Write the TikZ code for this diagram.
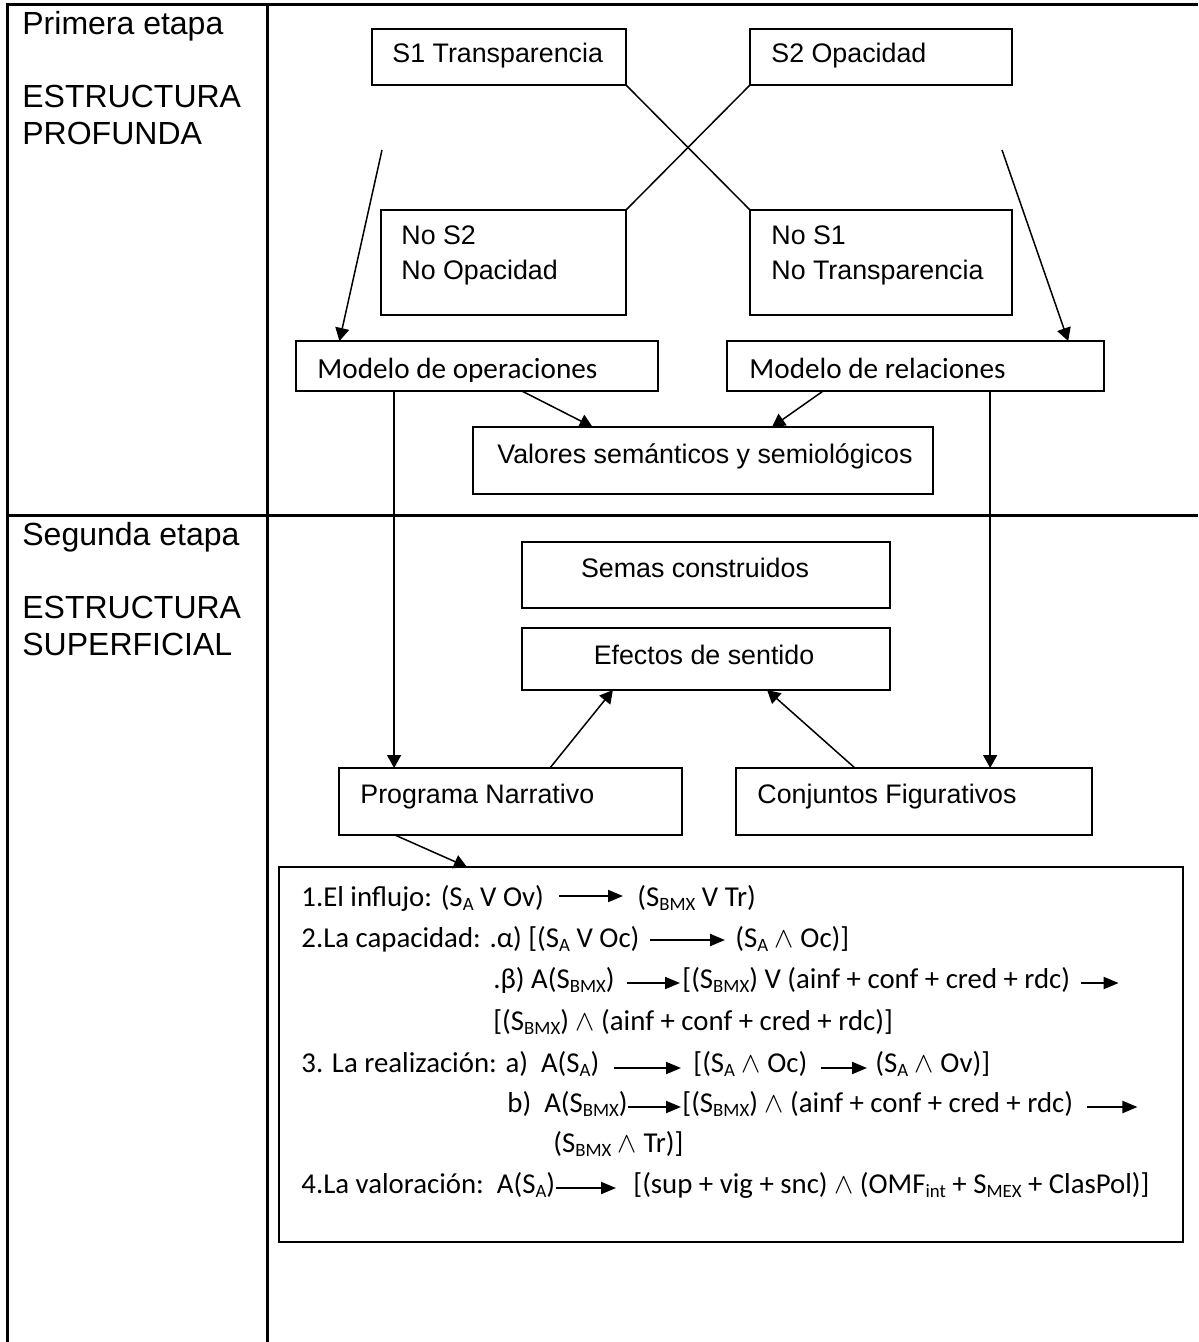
\documentclass[tikz,border=0pt]{standalone}
\usepackage{fontspec}
\setmainfont{Liberation Sans}
\newfontfamily\calib{Carlito}
\usetikzlibrary{arrows.meta,calc}

% lowered index in the formula lines
\newcommand\lo[1]{\raisebox{-0.35ex}{\fontsize{9.4pt}{10pt}\selectfont #1}}
\newcommand\et{\ensuremath{\wedge}}
% box from top-left (x1,y1) to bottom-right (x2,y2)
\newcommand\panel[5]{\node[box, minimum width={(#4-#2)*0.5pt}, minimum height={(#5-#3)*0.5pt}] (#1) at (#2,#3) {};}

\begin{document}
\begin{tikzpicture}[x=0.5pt,y=-0.5pt,
  rule/.style={line width=1.5pt},
  box/.style={draw, line width=1pt, inner sep=0pt, outer sep=0pt, anchor=north west},
  stage/.style={anchor=base west, inner sep=0pt, font=\fontsize{16pt}{19pt}\selectfont},
  lbl/.style={anchor=base west, inner sep=0pt, font=\fontsize{13.4pt}{16pt}\selectfont},
  lblc/.style={lbl, anchor=base},
  cal/.style={anchor=base west, inner sep=0pt, font=\calib\fontsize{14.6pt}{17pt}\selectfont},
  frm/.style={anchor=base west, inner sep=0pt, font=\calib\fontsize{14.4pt}{17pt}\selectfont},
  link/.style={line width=0.75pt},
  arr/.style={link, -{Triangle[length=6.5pt,width=7pt]}},
  farr/.style={line width=1pt, -{Triangle[length=7.5pt,width=6pt]}},
]
\useasboundingbox (0,0) rectangle (1198,1342);

% table grid
\draw[rule] (7,1342) -- (7,5) -- (1198,5);
\draw[rule] (267,5) -- (267,1342);
\draw[rule] (7,515) -- (1198,515);

% stage column
\node[stage] (st1) at (22,35) {Primera etapa};
\node[stage] (st1a) at (22,108) {ESTRUCTURA};
\node[stage] (st1b) at (22,145) {PROFUNDA};
\node[stage] (st2) at (22,545) {Segunda etapa};
\node[stage] (st2a) at (22,618) {ESTRUCTURA};
\node[stage] (st2b) at (22,655) {SUPERFICIAL};

% boxes
\panel{sone}{372}{29}{626}{85}
\panel{stwo}{750}{29}{1012}{85}
\panel{nstwo}{381}{210}{626}{315}
\panel{nsone}{750}{210}{1012}{315}
\panel{opm}{296}{341}{658}{391}
\panel{rel}{727}{341}{1104}{391}
\panel{val}{473}{427}{933}{494}
\panel{sem}{522}{542}{890}{608}
\panel{efe}{522}{628}{890}{690}
\panel{pn}{339}{768}{682}{835}
\panel{cf}{736}{768}{1092}{835}
\panel{steps}{279}{867}{1183}{1242}

% box labels
\node[lbl] (tsone) at (392,63) {S1 Transparencia};
\node[lbl] (tstwo) at (771,63) {S2 Opacidad};
\node[lbl] (tnstwo) at (401,245) {No S2};
\node[lbl] (tnstwob) at (401,280) {No Opacidad};
\node[lbl] (tnsone) at (771,245) {No S1};
\node[lbl] (tnsoneb) at (771,280) {No Transparencia};
\node[lbl] (tval) at (497,463) {Valores semánticos y semiológicos};
\node[lblc] (tsem) at (695,577) {Semas construidos};
\node[lblc] (tefe) at (704,664) {Efectos de sentido};
\node[lbl] (tpn) at (360,803) {Programa Narrativo};
\node[lbl] (tcf) at (757,803) {Conjuntos Figurativos};
\begin{scope}
  \clip (296,341) rectangle (1104,381);
  \node[cal] (topm) at (317,379) {Modelo de operaciones};
  \node[cal] (trel) at (749,379) {Modelo de relaciones};
\end{scope}

% connectors
\coordinate (ltop) at (382,150);
\coordinate (rtop) at (1002,150);
\draw[link] (sone.south east) -- (nsone.north west);
\draw[link] (stwo.south west) -- (nstwo.north east);
\draw[arr] (ltop) -- ($(opm.north west)!0.12!(opm.north east)$);
\draw[arr] (rtop) -- ($(rel.north west)!0.905!(rel.north east)$);
\draw[arr] ($(opm.south west)!0.624!(opm.south east)$) -- ($(val.north west)!0.26!(val.north east)$);
\draw[arr] ($(rel.south west)!0.255!(rel.south east)$) -- ($(val.north west)!0.65!(val.north east)$);
\coordinate (opmout) at ($(opm.south west)!0.271!(opm.south east)$);
\draw[arr] (opmout) -- (opmout |- pn.north);
\coordinate (relout) at ($(rel.south west)!0.698!(rel.south east)$);
\draw[arr] (relout) -- (relout |- cf.north);
\draw[arr] ($(pn.north west)!0.615!(pn.north east)$) -- ($(efe.south west)!0.247!(efe.south east)$);
\draw[arr] ($(cf.north west)!0.334!(cf.north east)$) -- ($(efe.south west)!0.666!(efe.south east)$);
\draw[arr] ($(pn.south west)!0.163!(pn.south east)$) -- ($(steps.north west)!0.208!(steps.north east)$);

% formula lines
\node[frm] (fa1) at (301,906) {1.El influjo: (S\lo{A} V Ov)};
\node[frm] (fb1) at (637,906) {(S\lo{BMX} V Tr)};
\draw[farr] ([shift={(15,-10)}]fa1.base east) -- ([shift={(-14,-10)}]fb1.base west);

\node[frm] (fa2) at (301,947) {2.La capacidad: .α) [(S\lo{A} V Oc)};
\node[frm] (fb2) at (735,947) {(S\lo{A} \et{} Oc)]};
\draw[farr] ([shift={(10,-7)}]fa2.base east) -- ([shift={(-10,-7)}]fb2.base west);

\node[frm] (fa3) at (493,988) {.β) A(S\lo{BMX})};
\node[frm] (fb3) at (682,988) {[(S\lo{BMX}) V (ainf + conf + cred + rdc)};
\draw[farr] ([shift={(12,-5)}]fa3.base east) -- ([shift={(-2,-5)}]fb3.base west);
\coordinate (ce3) at ([shift={(48,-5)}]fb3.base east);
\draw[farr] ([shift={(10,-5)}]fb3.base east) -- (ce3);

\node[frm] (fa4) at (493,1030) {[(S\lo{BMX}) \et{} (ainf + conf + cred + rdc)]};

\node[frm] (fa5) at (301,1072) {3. La realización: a)\ \ A(S\lo{A})};
\node[frm] (fb5) at (693,1072) {[(S\lo{A} \et{} Oc)};
\node[frm] (fc5) at (875,1072) {(S\lo{A} \et{} Ov)]};
\draw[farr] ([shift={(14,-4)}]fa5.base east) -- ([shift={(-12,-4)}]fb5.base west);
\draw[farr] ([shift={(13,-4)}]fb5.base east) -- ([shift={(-8,-4)}]fc5.base west);

\node[frm] (fa6) at (507,1112) {b)\ \ A(S\lo{BMX})};
\node[frm] (fb6) at (682,1112) {[(S\lo{BMX}) \et{} (ainf + conf + cred + rdc)};
\draw[farr] ([shift={(0,-5)}]fa6.base east) -- ([shift={(-1,-5)}]fb6.base west);
\coordinate (ce6) at ([shift={(64,-5)}]fb6.base east);
\draw[farr] ([shift={(14,-5)}]fb6.base east) -- (ce6);

\node[frm] (fa7) at (553,1152) {(S\lo{BMX} \et{} Tr)]};

\node[frm] (fa8) at (301,1193) {4.La valoración:\ \ A(S\lo{A})};
\node[frm] (fb8) at (633,1193) {[(sup + vig + snc) \et{} (OMF\lo{int} + S\lo{MEX} + ClasPol)]};
\draw[farr] ([shift={(0,-5)}]fa8.base east) -- ([shift={(-17,-5)}]fb8.base west);
\end{tikzpicture}
\end{document}
